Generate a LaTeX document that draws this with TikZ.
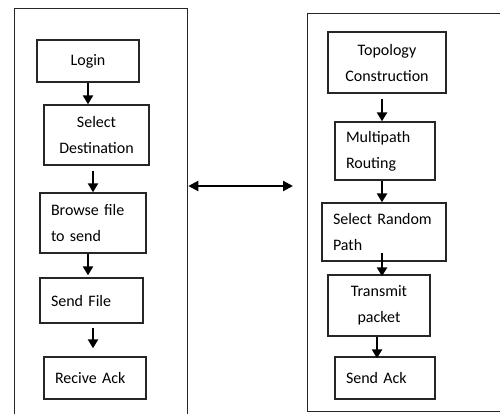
\documentclass[tikz,border=0pt]{standalone}
\usepackage{fontspec}
\setmainfont{Carlito}
\usetikzlibrary{arrows.meta}
\begin{document}
\begin{tikzpicture}[x=1pt,y=-1pt,
  stage/.style={draw=black!85, line width=1.3pt, inner ysep=0pt,
    font=\fontsize{16}{26}\selectfont},
  lstage/.style={stage, align=left, inner xsep=11pt, text width=#1},
  cstage/.style={stage, align=center, inner xsep=0pt},
  frame/.style={draw=black!85, line width=1.3pt, inner sep=0pt, anchor=north west},
  flow/.style={line width=2.2pt, -{Triangle[width=10pt,length=9pt]}},
  link/.style={line width=2.2pt, {Triangle[width=10pt,length=10pt]}-{Triangle[width=10pt,length=10pt]}}]
  \clip (0,0) rectangle (500,413);

  % the two sides
  \node[frame, minimum width=173pt, minimum height=440pt] (client) at (14,8) {};
  \node[frame, minimum width=230pt, minimum height=398pt] (server) at (307,13) {};

  % client steps
  \node[cstage, minimum width=102pt, minimum height=42pt] (login) at (88,61) {Login};
  \node[cstage, minimum width=105pt, minimum height=60pt] (seldest) at (96.5,135) {Select\\Destination};
  \node[lstage=84pt, minimum height=60pt] (browse) at (93,223) {Browse file\\to send};
  \node[lstage=81pt, minimum height=45pt] (sendfile) at (91.5,300.5) {Send File};
  \node[lstage=80pt, minimum height=42pt] (recive) at (95,378) {Recive Ack};

  % server steps
  \node[cstage, minimum width=118pt, minimum height=61pt] (topology) at (387,62.5) {Topology\\Construction};
  \node[lstage=78pt, minimum height=58pt] (multipath) at (385,151) {Multipath\\Routing};
  \node[lstage=102pt, minimum height=58pt] (selrand) at (384,232) {Select Random\\Path};
  \node[cstage, minimum width=102pt, minimum height=61pt] (transmit) at (379,305.5) {Transmit\\packet};
  \node[lstage=78pt, minimum height=42pt] (sendack) at (385,378) {Send Ack};

  % client flow
  \draw[flow] (login.south) -- (login.south |- seldest.north);
  \draw[flow, shorten <=5pt] ([xshift=-3.5pt]seldest.south) -- ([xshift=-3.5pt]seldest.south |- browse.north);
  \draw[flow, shorten >=2pt] ([xshift=-5pt]browse.south) -- ([xshift=-5pt]browse.south |- sendfile.north);
  \draw[flow, shorten <=4pt, shorten >=8pt] ([xshift=1.5pt]sendfile.south) -- ([xshift=1.5pt]sendfile.south |- recive.north);

  % server flow
  \draw[flow, shorten <=5pt] ([xshift=-5pt]topology.south) -- ([xshift=-5pt]topology.south |- multipath.north);
  \draw[flow] ([xshift=-3pt]multipath.south) -- ([xshift=-3pt]multipath.south |- selrand.north);
  \draw[flow, shorten >=-2pt] ([xshift=-2pt,yshift=9pt]selrand.south) -- ([xshift=-2pt]selrand.south |- transmit.north);
  \draw[flow, shorten >=-2pt] ([xshift=-2pt]transmit.south) -- ([xshift=-2pt]transmit.south |- sendack.north);

  % link between the two sides
  \coordinate (mid) at (240,186);
  \draw[link, shorten >=14pt] (client.east |- mid) -- (server.west |- mid);
\end{tikzpicture}
\end{document}
